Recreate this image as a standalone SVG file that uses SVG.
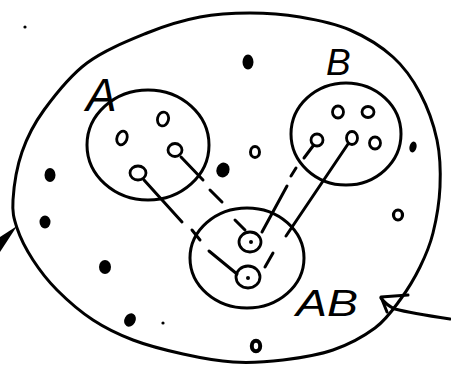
<svg xmlns="http://www.w3.org/2000/svg" width="451" height="382" viewBox="0 0 451 382">
<style>
.ln{fill:none;stroke:#000;stroke-width:3;stroke-linecap:round;stroke-linejoin:round}
.sm{fill:none;stroke:#000;stroke-width:2.8}
.dot{fill:#000}
.ring{fill:none;stroke:#000}
.lbl{font-family:"Liberation Sans",Arial,sans-serif;font-style:italic;fill:#000}
</style>
<rect width="451" height="382" fill="#fff"/>
<g id="universe">
<path class="ln" d="M13,200 C13.8,187.3 16.8,167 22,152 C27.2,137 33.2,124.8 44,110 C54.8,95.2 69.8,75.8 87,63 C104.2,50.2 128.2,40.7 147,33 C165.8,25.3 182.8,20.3 200,17 C217.2,13.7 233.3,13 250,13 C266.7,13 283.3,14.2 300,17 C316.7,19.8 334.5,23.3 350,30 C365.5,36.7 381.3,46.5 393,57 C404.7,67.5 412.7,79.2 420,93 C427.3,106.8 433.7,124.3 437,140 C440.3,155.7 440.7,171.5 440,187 C439.3,202.5 436.3,219.7 433,233 C429.7,246.3 425.5,255.8 420,267 C414.5,278.2 407.5,289.8 400,300 C392.5,310.2 386.2,319.7 375,328 C363.8,336.3 348.3,344.7 333,350 C317.7,355.3 299.7,358 283,360 C266.3,362 249.7,363 233,362 C216.3,361 199.7,357.7 183,354 C166.3,350.3 148,345.7 133,340 C118,334.3 105.7,328.3 93,320 C80.3,311.7 67,300 57,290 C47,280 39.7,270.3 33,260 C26.3,249.7 20.3,238 17,228 C13.7,218 12.2,212.7 13,200 Z"/>
</g>
<g id="pointer-left">
<polygon points="17,226 0,237 0,252" fill="#000"/>
</g>
<g id="pointer-right">
<path class="ln" d="M450,319 C430,316 410,313 395,309 C388,306 384,302 381,298"/>
<path class="ln" d="M408,295 L381,297 L387,312"/>
</g>
<g id="set-A">
<ellipse class="ln" cx="148" cy="145" rx="61" ry="55"/>
<text class="lbl" x="86" y="111" font-size="46">A</text>
<ellipse class="sm" cx="122" cy="138" rx="5" ry="7" transform="rotate(20 122 138)"/>
<ellipse class="sm" cx="163" cy="119" rx="5.5" ry="7" transform="rotate(15 163 119)"/>
<ellipse class="sm" cx="175" cy="150" rx="7" ry="6.5"/>
<ellipse class="sm" cx="138" cy="173" rx="8" ry="7"/>
</g>
<g id="set-B">
<ellipse class="ln" cx="346" cy="134" rx="55" ry="51"/>
<text class="lbl" x="326" y="75" font-size="37">B</text>
<ellipse class="sm" cx="338" cy="112" rx="5.5" ry="6"/>
<ellipse class="sm" cx="368" cy="112" rx="6" ry="5.5"/>
<ellipse class="sm" cx="317" cy="140" rx="6" ry="6"/>
<ellipse class="sm" cx="352" cy="138" rx="5.5" ry="6.5"/>
<ellipse class="sm" cx="375" cy="143" rx="5.5" ry="6"/>
</g>
<g id="set-AB">
<ellipse class="ln" cx="247" cy="258" rx="57" ry="50"/>
<text class="lbl" x="296" y="316" font-size="36" textLength="62" lengthAdjust="spacingAndGlyphs">AB</text>
<ellipse class="sm" cx="250" cy="242" rx="11" ry="10"/>
<circle class="dot" cx="251" cy="242" r="2"/>
<ellipse class="sm" cx="248" cy="277" rx="12" ry="11"/>
<circle class="dot" cx="248" cy="278" r="2"/>
</g>
<g id="connectors">
<path class="ln" d="M144,180 L182,222 M192,230 L200,240 M209,251 L237,274"/>
<path class="ln" d="M181,157 L203,180 M210,190 L222,202 M235,220 L245,230"/>
<path class="ln" d="M313,146 L304,158 M296,168 L291,176 M287,186 L262,232"/>
<path class="ln" d="M348,144 L286,236 M273,253 L265,267"/>
</g>
<g id="elements">
<ellipse class="dot" cx="248" cy="62" rx="5.5" ry="7.5"/>
<ellipse class="dot" cx="50" cy="175" rx="5.5" ry="7"/>
<ellipse class="dot" cx="45" cy="222" rx="5.5" ry="6.5"/>
<ellipse class="dot" cx="105" cy="267" rx="6" ry="7"/>
<ellipse class="dot" cx="130" cy="320" rx="5.5" ry="7" transform="rotate(30 130 320)"/>
<circle class="dot" cx="163" cy="323" r="1.6"/>
<ellipse class="dot" cx="223" cy="170" rx="6.5" ry="7.5" transform="rotate(20 223 170)"/>
<ellipse class="dot" cx="413" cy="147" rx="3.5" ry="5.5" transform="rotate(15 413 147)"/>
<circle class="dot" cx="25" cy="27" r="1.6"/>
<ellipse class="ring" cx="255" cy="152" rx="4.5" ry="5.5" stroke-width="3"/>
<ellipse class="ring" cx="398" cy="215" rx="4.5" ry="5" stroke-width="3.2"/>
<ellipse class="ring" cx="256" cy="346" rx="4.2" ry="5.2" stroke-width="4"/>
</g>
</svg>
